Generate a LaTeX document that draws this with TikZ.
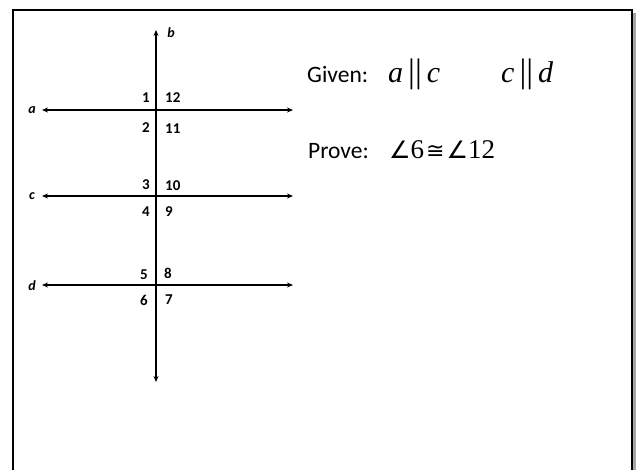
\documentclass[tikz,border=0pt]{standalone}
\usepackage{fontspec}
\setmainfont{Carlito}[BoldFont={Carlito Bold},ItalicFont={Carlito Italic},BoldItalicFont={Carlito Bold Italic}]
\newfontfamily\timesf{Liberation Serif}
\newfontfamily\dvsf{DejaVu Sans}
\usetikzlibrary{arrows.meta}
\tikzset{
  ln/.style={line width=1.6pt, {Stealth[length=6pt,width=5pt]}-{Stealth[length=6pt,width=5pt]}},
  num/.style={font=\fontsize{15}{15}\selectfont\bfseries, inner sep=0pt},
  lbl/.style={font=\fontsize{14}{14}\selectfont\bfseries\itshape, inner sep=0pt},
  big/.style={anchor=base west, inner sep=0pt, font=\fontsize{23.5}{23.5}\selectfont},
  mth/.style={anchor=base west, inner sep=0pt, font=\fontsize{30}{30}\selectfont\timesf},
  pmth/.style={anchor=base west, inner sep=0pt, font=\fontsize{27}{27}\selectfont\timesf},
}
\newcommand{\bars}{{\fontsize{34}{34}\selectfont||}}
\newcommand{\ang}{{\dvsf\fontsize{24}{24}\selectfont ∠}}
\newcommand{\congr}{{\dvsf\fontsize{22}{22}\selectfont ≅}}
\begin{document}
\begin{tikzpicture}[x=1pt,y=-1pt]
\useasboundingbox (0,0) rectangle (640,470);
\clip (0,0) rectangle (640,470);
% frame with shadow
\fill[gray!70] (16,13) rectangle (636,480);
\draw[line width=2.4pt, fill=white] (13,10) rectangle (632,480);
% lines
\coordinate (bt) at (156,30);
\coordinate (bb) at (156,382);
\coordinate (al) at (42,110);
\coordinate (ar) at (293,110);
\coordinate (cl) at (42,196);
\coordinate (cr) at (293,196);
\coordinate (dl) at (42,285);
\coordinate (dr) at (293,285);
\draw[ln] (al) -- (ar);
\draw[ln] (cl) -- (cr);
\draw[ln] (dl) -- (dr);
\draw[ln] (bt) -- (bb);
% line labels
\node[lbl] (la) at (32,110) {a};
\node[lbl] (lb) at (171,33) {b};
\node[lbl] (lc) at (32,196) {c};
\node[lbl] (ld) at (32,286) {d};
% angle numbers
\node[num, anchor=east] (n1) at (150,98) {1};
\node[num, anchor=west] (n12) at (165,98) {12};
\node[num, anchor=east] (n2) at (150,128) {2};
\node[num, anchor=west] (n11) at (165,129) {11};
\node[num, anchor=east] (n3) at (150,185) {3};
\node[num, anchor=west] (n10) at (165,186) {10};
\node[num, anchor=east] (n4) at (150,212) {4};
\node[num, anchor=west] (n9) at (165,212) {9};
\node[num, anchor=east] (n5) at (148,275) {5};
\node[num, anchor=west] (n8) at (164,273) {8};
\node[num, anchor=east] (n6) at (148,300) {6};
\node[num, anchor=west] (n7) at (165,300) {7};
% given / prove
\node[big] (given) at (307,83) {Given:};
\node[mth] (g1) at (388,83) {\textit{a}\,\bars\,\textit{c}};
\node[mth] (g2) at (501,83) {\textit{c}\,\bars\,\textit{d}};
\node[big] (prove) at (308,159) {Prove:};
\node[pmth] (p1) at (389,159) {\ang6\kern2pt\congr\kern2pt\ang12};
\end{tikzpicture}
\end{document}
